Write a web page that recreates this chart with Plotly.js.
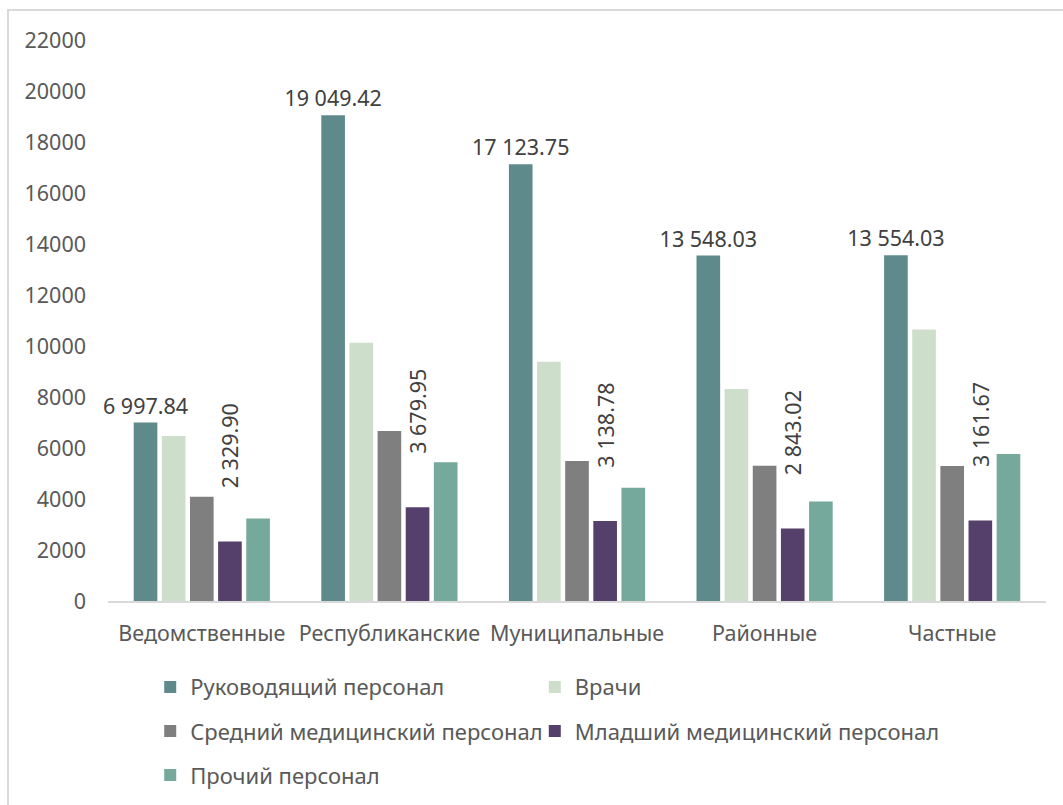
<!DOCTYPE html>
<html>
<head>
<meta charset="utf-8">
<script src="https://cdn.plot.ly/plotly-3.0.1.min.js"></script>
<style>
  html, body { margin: 0; padding: 0; background: #fff; }
  #wrap { position: relative; width: 1063px; height: 805px; }
  #chart { position: absolute; left: 0; top: 0; width: 1063px; height: 805px; }
  #frame { position: absolute; left: 7px; top: 9px; width: 1070px; height: 820px;
           border-top: 2px solid #d9d9d9; border-left: 2px solid #d9d9d9; pointer-events: none; }
</style>
</head>
<body>
<div id="wrap">
  <div id="chart"></div>
  <div id="frame"></div>
</div>
<script>
const categories = ["Ведомственные", "Республиканские", "Муниципальные", "Районные", "Частные"];
const seriesNames = ["Руководящий персонал", "Врачи", "Средний медицинский персонал", "Младший медицинский персонал", "Прочий персонал"];
const rukovodyashchiy = [6997.84, 19049.42, 17123.75, 13548.03, 13554.03];
const vrachi = [6470, 10130, 9380, 8310, 10650];
const sredniy = [4090, 6670, 5490, 5300, 5290];
const mladshiy = [2329.90, 3679.95, 3138.78, 2843.02, 3161.67];
const prochiy = [3240, 5440, 4440, 3900, 5760];
const yTicks = [0, 2000, 4000, 6000, 8000, 10000, 12000, 14000, 16000, 18000, 20000, 22000];

const colors = ["#5f8a8b", "#cddfcb", "#7f7f7f", "#553f6b", "#75a99b"];
const values = [rukovodyashchiy, vrachi, sredniy, mladshiy, prochiy];
const FONT = "Noto Sans, sans-serif";
const TXT = "#595959";
const FS = 21.5;
const pad = "\u00A0".repeat(9);

const legendFor = [ "legend", "legend2", "legend", "legend2", "legend" ];

const traces = values.map((v, i) => {
  const t = {
    type: "bar",
    name: seriesNames[i],
    x: categories,
    y: v,
    marker: { color: colors[i], line: { width: 0 } },
    legend: legendFor[i],
    legendgroup: "g" + i,
    hoverinfo: "x+y+name",
    cliponaxis: false
  };
  if (i === 0) {
    t.texttemplate = "%{y:,.2f}";
    t.textposition = "outside";
    t.textangle = 0;
    t.constraintext = "none";
    t.textfont = { family: FONT, size: FS, color: "#404040" };
  } else if (i === 3) {
    t.texttemplate = pad + "%{y:,.2f}";
    t.textposition = "outside";
    t.textangle = -90;
    t.constraintext = "none";
    t.textfont = { family: FONT, size: FS, color: "#404040" };
  }
  return t;
});

const legendBase = {
  orientation: "v",
  y: -0.116, yanchor: "top",
  tracegroupgap: 12.5,
  font: { family: FONT, size: 22, color: TXT },
  bgcolor: "rgba(0,0,0,0)",
  traceorder: "grouped",
  xanchor: "left"
};

const layout = {
  width: 1063,
  height: 805,
  margin: { l: 108, r: 17, t: 40, b: 204, autoexpand: false },
  paper_bgcolor: "#ffffff",
  plot_bgcolor: "#ffffff",
  separators: ". ",
  font: { family: FONT, size: FS, color: TXT },
  barmode: "group",
  bargap: 0.25,
  bargroupgap: 0.16,
  showlegend: true,
  xaxis: {
    type: "category",
    showgrid: false,
    showline: true,
    linecolor: "#d9d9d9",
    linewidth: 2,
    ticks: "",
    ticklabelstandoff: 12,
    tickfont: { family: FONT, size: FS, color: TXT },
    zeroline: false
  },
  yaxis: {
    range: [0, 22000],
    tickvals: yTicks,
    tickformat: "d",
    showgrid: false,
    zeroline: false,
    showline: false,
    ticks: "",
    ticklabelstandoff: 21,
    tickfont: { family: FONT, size: FS, color: TXT }
  },
  legend: Object.assign({}, legendBase, { x: 0.045 }),
  legend2: Object.assign({}, legendBase, { x: 0.455 })
};

Plotly.newPlot("chart", traces, layout, { displayModeBar: false, responsive: false });
</script>
</body>
</html>
